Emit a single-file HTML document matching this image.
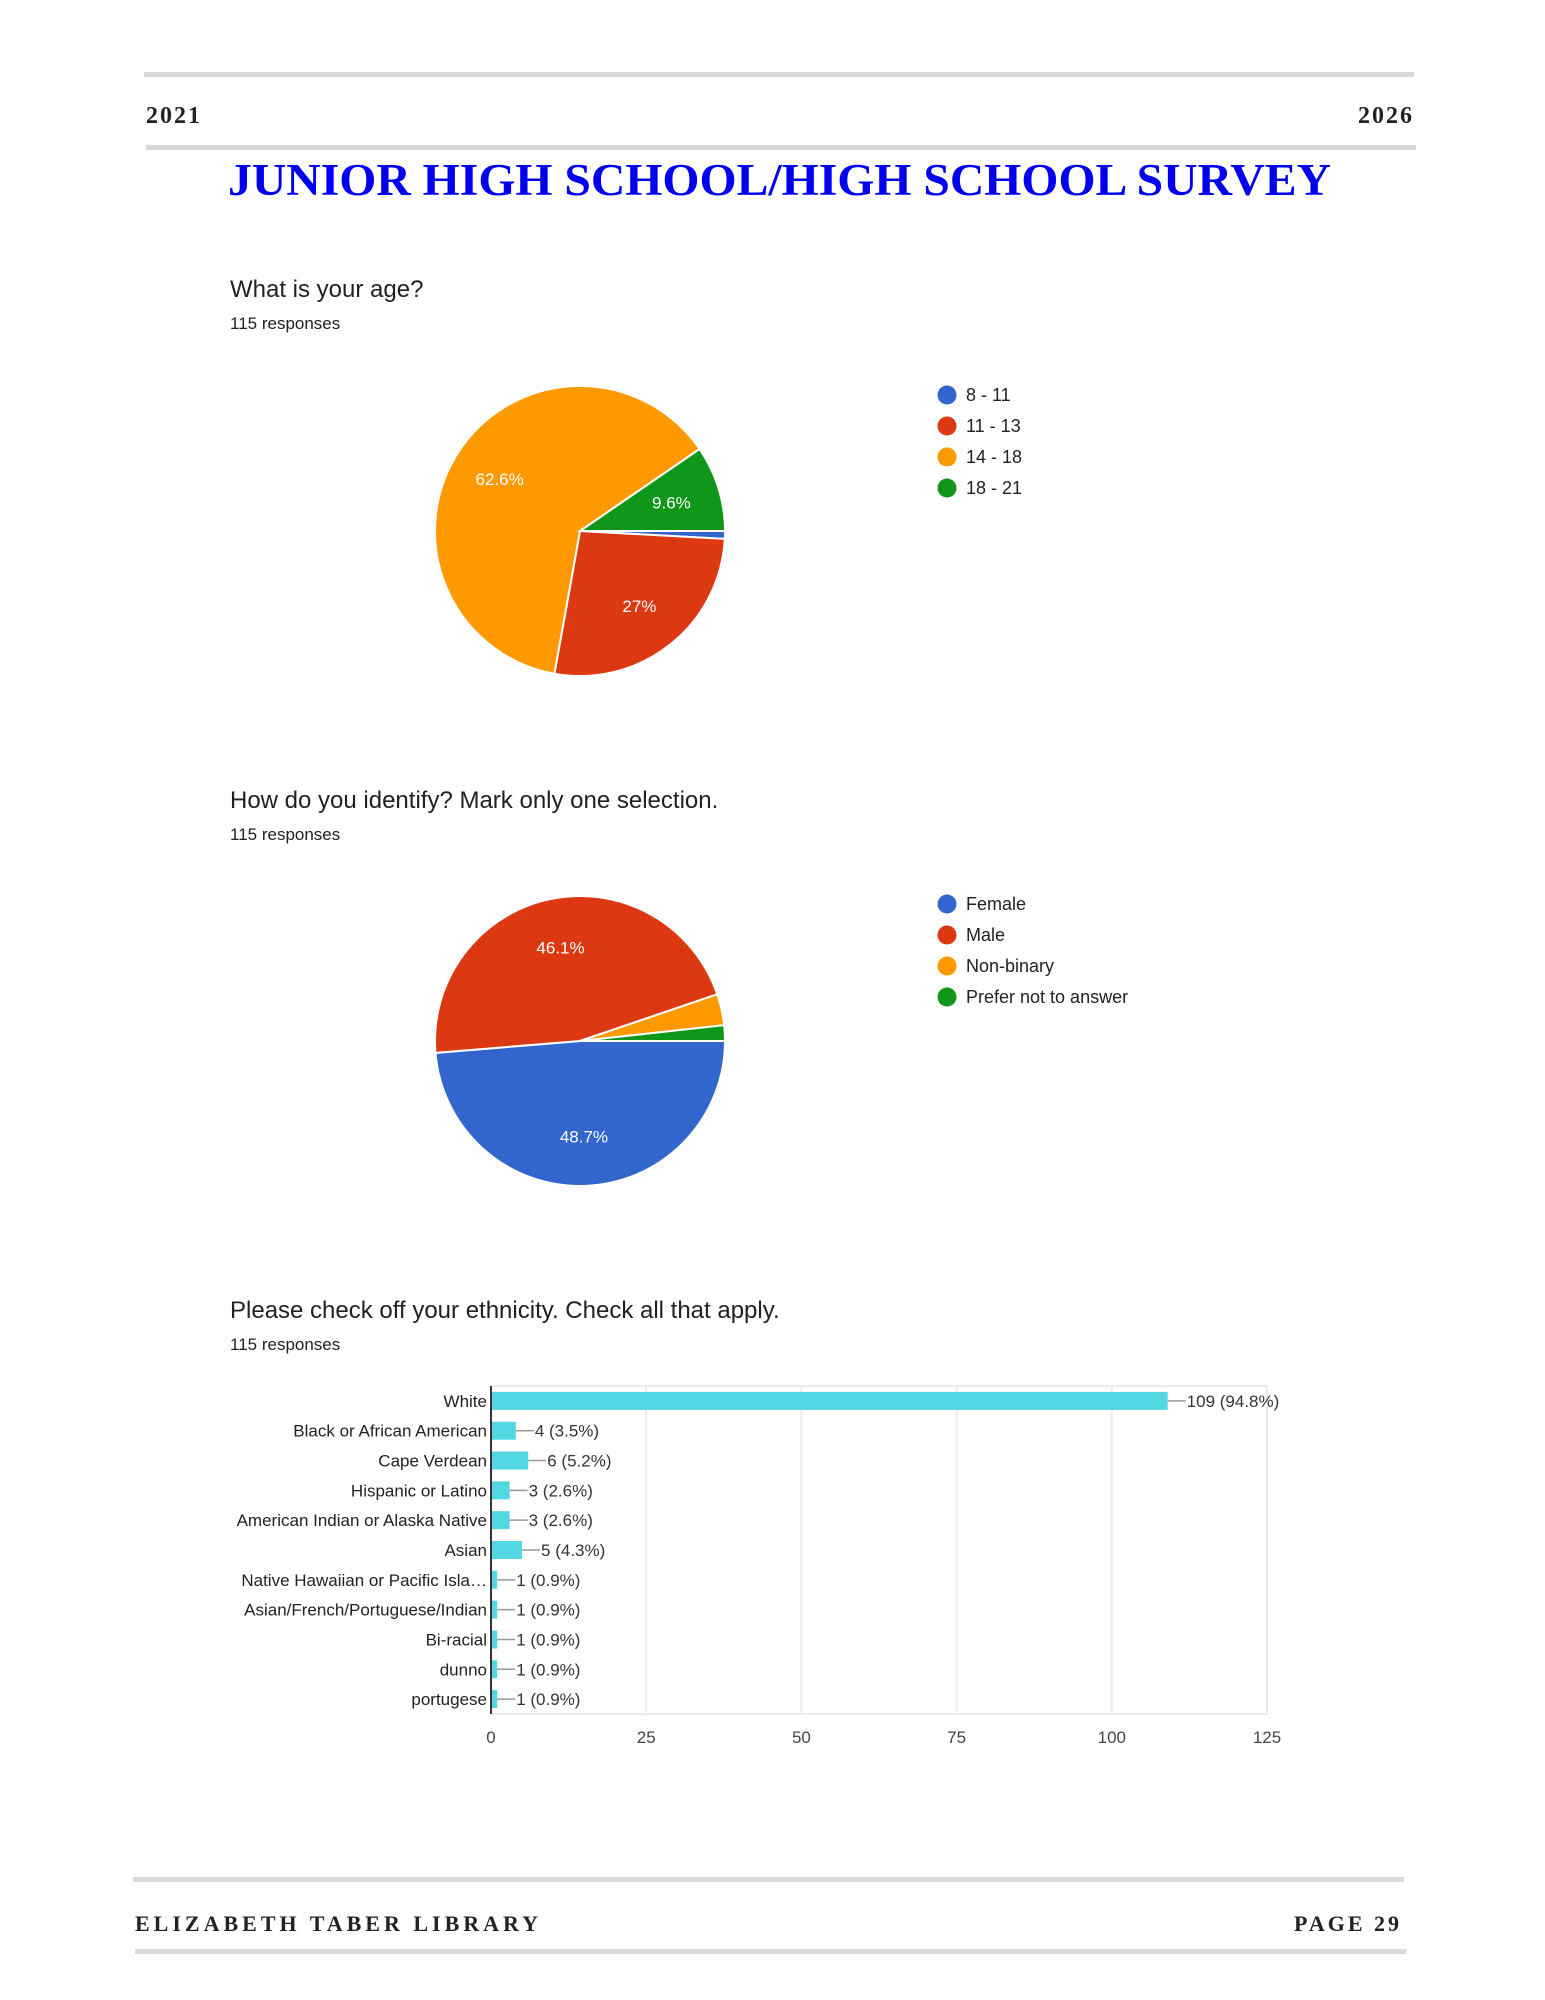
<!DOCTYPE html>
<html><head><meta charset="utf-8">
<style>
html,body{margin:0;padding:0;background:#fff;}
svg{display:block;}
.hd{font-family:"Liberation Serif",serif;font-weight:bold;fill:#222;}
.sa{font-family:"Liberation Sans",sans-serif;}
</style></head>
<body>
<svg width="1545" height="2000" viewBox="0 0 1545 2000" xmlns="http://www.w3.org/2000/svg" id="root">
<rect x="144" y="72" width="1270" height="5" fill="#d9d9d9"/>
<text class="hd" x="146" y="123" font-size="24" letter-spacing="2">2021</text>
<text class="hd" x="1414" y="123" font-size="24" letter-spacing="2" text-anchor="end">2026</text>
<rect x="146" y="145" width="1270" height="5" fill="#d9d9d9"/>
<text x="228" y="195" font-family="Liberation Serif, serif" font-weight="bold" font-size="45" fill="#0000ee" textLength="1103" lengthAdjust="spacingAndGlyphs">JUNIOR HIGH SCHOOL/HIGH SCHOOL SURVEY</text>

<text class="sa" x="230" y="297" font-size="24" fill="#202124">What is your age?</text>
<text class="sa" x="230" y="329" font-size="17" fill="#202124">115 responses</text>
<g id="pie1"></g>
<g id="leg1"></g>

<text class="sa" x="230" y="808" font-size="24" fill="#202124">How do you identify? Mark only one selection.</text>
<text class="sa" x="230" y="840" font-size="17" fill="#202124">115 responses</text>
<g id="pie2"></g>
<g id="leg2"></g>

<text class="sa" x="230" y="1318" font-size="24" fill="#202124">Please check off your ethnicity. Check all that apply.</text>
<text class="sa" x="230" y="1350" font-size="17" fill="#202124">115 responses</text>
<g id="bars"></g>

<rect x="133" y="1877" width="1271" height="5" fill="#d9d9d9"/>
<text class="hd" x="135" y="1931" font-size="22" letter-spacing="4">ELIZABETH TABER LIBRARY</text>
<text class="hd" x="1402" y="1931" font-size="22" letter-spacing="3" text-anchor="end">PAGE 29</text>
<rect x="135" y="1949" width="1271" height="5" fill="#d9d9d9"/>
</svg>
<script>
const NS='http://www.w3.org/2000/svg';
const ageLabels=['8 - 11','11 - 13','14 - 18','18 - 21'];
const ageValues=[1,31,72,11];
const agePercents=['0.9%','27%','62.6%','9.6%'];
const genderLabels=['Female','Male','Non-binary','Prefer not to answer'];
const genderValues=[56,53,4,2];
const genderPercents=['48.7%','46.1%','3.5%','1.7%'];
const ethCategories=['White','Black or African American','Cape Verdean','Hispanic or Latino','American Indian or Alaska Native','Asian','Native Hawaiian or Pacific Isla\u2026','Asian/French/Portuguese/Indian','Bi-racial','dunno','portugese'];
const ethValues=[109,4,6,3,3,5,1,1,1,1,1];
const ethPercents=['94.8%','3.5%','5.2%','2.6%','2.6%','4.3%','0.9%','0.9%','0.9%','0.9%','0.9%'];
const xTicks=[0,25,50,75,100,125];
const COLORS=['#3366cc','#dc3912','#ff9900','#109618'];

function mk(tag,attrs,parent){const e=document.createElementNS(NS,tag);for(const k in attrs)e.setAttribute(k,attrs[k]);parent.appendChild(e);return e;}

function pie(gid,values,pcts,labels,cx,cy,r,prefix){
  const g=document.getElementById(gid);
  const total=values.reduce((a,b)=>a+b,0);
  let a=Math.PI/2; // start at 3 o'clock (90deg from top)
  values.forEach((v,i)=>{
    const frac=v/total;const a2=a+frac*2*Math.PI;
    const p=(t)=>[cx+r*Math.sin(t),cy-r*Math.cos(t)];
    const [x1,y1]=p(a),[x2,y2]=p(a2);
    const path=mk('path',{d:`M${cx},${cy} L${x1},${y1} A${r},${r} 0 ${frac>0.5?1:0} 1 ${x2},${y2} Z`,fill:COLORS[i],stroke:'#fff','stroke-width':2},g);
    
    
    if(frac>0.05){
      const m=(a+a2)/2;const lr=r*0.66;
      const t=mk('text',{x:cx+lr*Math.sin(m),y:cy-lr*Math.cos(m)+6,'text-anchor':'middle','font-size':17,fill:'#fff','font-family':'Liberation Sans, sans-serif'},g);
      
      
      t.textContent=pcts[i];
    }
    a=a2;
  });
}
function legend(gid,labels,y0,prefix){
  const g=document.getElementById(gid);
  labels.forEach((l,i)=>{
    const y=y0+i*31;
    const c=mk('circle',{cx:947,cy:y,r:9.5,fill:COLORS[i]},g);
    
    
    const t=mk('text',{x:966,y:y+6,'font-size':18,fill:'#222','font-family':'Liberation Sans, sans-serif'},g);
    
    
    t.textContent=l;
  });
}
pie('pie1',ageValues,agePercents,ageLabels,580,531,145,'age');
legend('leg1',ageLabels,395,'age');
pie('pie2',genderValues,genderPercents,genderLabels,580,1041,145,'gender');
legend('leg2',genderLabels,904,'gender');

// bar chart
(function(){
  const g=document.getElementById('bars');
  const x0=491,x1=1267,top=1386,bot=1714,max=125;
  const sx=v=>x0+(v/max)*(x1-x0);
  const step=(bot-top)/ethCategories.length;
  xTicks.forEach(t=>{
    if(t>0){const l=mk('line',{x1:sx(t),x2:sx(t),y1:top,y2:bot,stroke:'#ebebeb','stroke-width':2},g);
    
    }
    const tx=mk('text',{x:sx(t),y:bot+29,'text-anchor':'middle','font-size':17,fill:'#444','font-family':'Liberation Sans, sans-serif'},g);
    
    
    tx.textContent=t;
  });
  const tl=mk('line',{x1:x0,x2:x1,y1:top,y2:top,stroke:'#ebebeb','stroke-width':2},g);
  
  
  const bl=mk('line',{x1:x0,x2:x1,y1:bot,y2:bot,stroke:'#ebebeb','stroke-width':2},g);
  
  
  ethCategories.forEach((c,i)=>{
    const cy=top+step*(i+0.5);
    const w=Math.max(sx(ethValues[i])-x0,3);
    const b=mk('rect',{x:x0,y:cy-9,width:w,height:18,fill:'#52d7e3'},g);
    
    
    const ld=mk('line',{x1:x0+w,x2:x0+w+18,y1:cy,y2:cy,stroke:'#999','stroke-width':1.5},g);
    
    
    const v=mk('text',{x:x0+w+19,y:cy+6,'font-size':17,fill:'#333','font-family':'Liberation Sans, sans-serif'},g);
    
    
    v.textContent=ethValues[i]+' ('+ethPercents[i]+')';
    const cl=mk('text',{x:x0-4,y:cy+6,'text-anchor':'end','font-size':17,fill:'#222','font-family':'Liberation Sans, sans-serif'},g);
    
    
    cl.textContent=c;
  });
  const ax=mk('line',{x1:x0,x2:x0,y1:top,y2:bot,stroke:'#333','stroke-width':2},g);
  
  
})();
</script>
</body></html>
